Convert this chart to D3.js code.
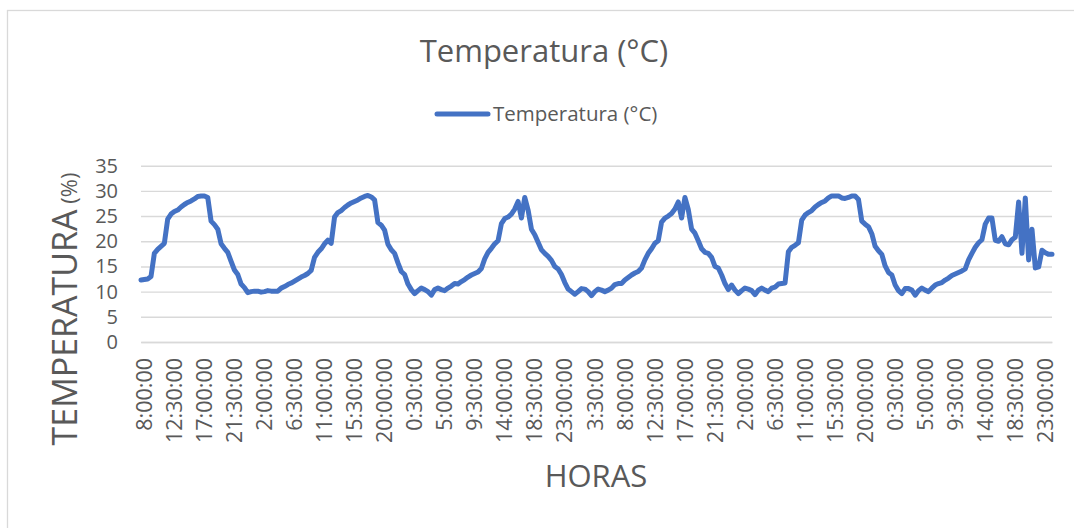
<!DOCTYPE html>
<html>
<head>
<meta charset="utf-8">
<script src="https://cdnjs.cloudflare.com/ajax/libs/d3/7.8.5/d3.min.js"></script>
<style>
  body { margin: 0; background: #fff; }
  svg { display: block; font-family: "Open Sans", sans-serif; }
</style>
</head>
<body>
<div id="chart"></div>
<script>
// readings every 30 minutes, starting at 8:00:00
var startHour = 8, stepMinutes = 30;

var temperatura = [
  12.3, 12.4, 12.5, 13.0, 17.6, 18.4, 19.0, 19.6, 24.4, 25.4,
  25.9, 26.2, 26.8, 27.3, 27.7, 28.0, 28.4, 28.9, 29.0, 29.0,
  28.7, 24.0, 23.3, 22.4, 19.5, 18.6, 17.8, 16.0, 14.3, 13.4,
  11.5, 10.8, 9.8, 10.0, 10.1, 10.1, 9.9, 10.0, 10.2, 10.1,
  10.1, 10.1, 10.7, 11.0, 11.4, 11.7, 12.1, 12.5, 12.9, 13.2,
  13.6, 14.2, 16.8, 17.8, 18.5, 19.5, 20.2, 19.6, 24.8, 25.7,
  26.1, 26.7, 27.2, 27.6, 27.9, 28.2, 28.6, 28.9, 29.1, 28.8,
  28.2, 23.7, 23.2, 22.2, 19.4, 18.3, 17.6, 15.7, 14.0, 13.4,
  11.5, 10.4, 9.6, 10.2, 10.7, 10.4, 10.0, 9.3, 10.4, 10.7,
  10.4, 10.2, 10.7, 11.1, 11.6, 11.5, 12.0, 12.4, 12.9, 13.3,
  13.6, 13.9, 14.6, 16.5, 17.8, 18.6, 19.5, 20.1, 23.5, 24.5,
  24.8, 25.4, 26.4, 27.9, 24.6, 28.7, 26.2, 22.4, 21.3, 19.8,
  18.3, 17.6, 17.0, 16.2, 15.0, 14.5, 13.4, 11.8, 10.5, 10.0,
  9.5, 10.0, 10.6, 10.5, 10.0, 9.2, 10.0, 10.5, 10.3, 10.0,
  10.3, 10.7, 11.4, 11.6, 11.6, 12.3, 12.8, 13.3, 13.7, 14.0,
  14.7, 16.3, 17.6, 18.5, 19.6, 20.1, 23.8, 24.6, 25.0, 25.5,
  26.4, 27.8, 24.6, 28.7, 26.3, 22.4, 21.6, 20.1, 18.5, 17.8,
  17.6, 16.8, 15.0, 14.7, 13.3, 11.6, 10.4, 11.3, 10.3, 9.6,
  10.2, 10.7, 10.5, 10.2, 9.4, 10.3, 10.7, 10.3, 10.0, 10.7,
  10.9, 11.5, 11.6, 11.7, 17.9, 18.8, 19.2, 19.7, 24.2, 25.2,
  25.7, 26.1, 26.8, 27.3, 27.7, 28.0, 28.6, 29.0, 29.0, 29.0,
  28.6, 28.5, 28.7, 29.0, 29.0, 28.3, 24.0, 23.4, 22.9, 21.5,
  19.0, 18.1, 17.4, 15.1, 13.8, 13.3, 11.3, 10.2, 9.6, 10.6,
  10.6, 10.3, 9.3, 10.2, 10.7, 10.3, 10.0, 10.7, 11.3, 11.6,
  11.8, 12.3, 12.7, 13.2, 13.5, 13.8, 14.1, 14.5, 16.3, 17.6,
  18.8, 19.7, 20.3, 23.4, 24.6, 24.6, 20.2, 20.0, 20.9, 19.5,
  19.3, 20.3, 20.8, 27.8, 17.6, 28.6, 16.3, 22.4, 14.7, 14.9,
  18.2, 17.7, 17.4, 17.4
];

// one label every 9 readings (4.5 h)
var tickEvery = 9;
var tickLabels = [
  "8:00:00", "12:30:00", "17:00:00", "21:30:00", "2:00:00", "6:30:00",
  "11:00:00", "15:30:00", "20:00:00", "0:30:00", "5:00:00", "9:30:00",
  "14:00:00", "18:30:00", "23:00:00", "3:30:00", "8:00:00", "12:30:00",
  "17:00:00", "21:30:00", "2:00:00", "6:30:00", "11:00:00", "15:30:00",
  "20:00:00", "0:30:00", "5:00:00", "9:30:00", "14:00:00", "18:30:00",
  "23:00:00"
];
var yTicks = [0, 5, 10, 15, 20, 25, 30, 35];

var titulo = "Temperatura (°C)";
var serieNombre = "Temperatura (°C)";

// hour label for each reading
var categorias = temperatura.map(function(d, i) {
  var m = startHour * 60 + i * stepMinutes;
  var h = Math.floor(m / 60) % 24, mm = m % 60;
  return h + ":" + (mm < 10 ? "0" : "") + mm + ":00";
});

var width = 1074, height = 528;
var plotLeft = 141, plotRight = 1052, plotTop = 165.7, plotBottom = 342;
var textColor = "#595959", lineColor = "#4472C4", gridColor = "#d9d9d9";

var svg = d3.select("#chart").append("svg")
  .attr("width", width)
  .attr("height", height);

// chart frame
svg.append("rect")
  .attr("x", 7.5).attr("y", 10.5)
  .attr("width", 1100).attr("height", 600)
  .attr("fill", "none")
  .attr("stroke", gridColor)
  .attr("stroke-width", 1.3);

var x = d3.scalePoint()
  .domain(d3.range(temperatura.length))
  .range([plotLeft, plotRight]);

var y = d3.scaleLinear()
  .domain([0, 35])
  .range([plotBottom, plotTop]);

// y axis with gridlines
var yAxis = svg.append("g")
  .attr("transform", "translate(" + plotLeft + ",0)")
  .call(d3.axisLeft(y).tickValues(yTicks).tickSize(-(plotRight - plotLeft)).tickPadding(23));
yAxis.select(".domain").remove();
yAxis.selectAll(".tick line")
  .attr("stroke", gridColor)
  .attr("stroke-width", 1.4);
yAxis.selectAll(".tick text")
  .attr("fill", textColor)
  .attr("font-size", "20px")
  .attr("font-family", "Open Sans");

// x axis labels
var xAxis = svg.append("g")
  .attr("transform", "translate(0," + plotBottom + ")")
  .call(d3.axisBottom(x)
    .tickValues(tickLabels.map(function(d, k) { return k * tickEvery; }))
    .tickSize(0)
    .tickFormat(function(i) { return categorias[i]; }));
xAxis.select(".domain")
  .attr("stroke", gridColor)
  .attr("stroke-width", 1.4);
xAxis.selectAll(".tick text")
  .attr("fill", textColor)
  .attr("font-size", "21.5px")
  .attr("font-family", "Open Sans")
  .attr("text-anchor", "end")
  .attr("transform", "translate(3,16) rotate(-90)")
  .attr("x", 0)
  .attr("y", 0)
  .attr("dy", "0.35em");

// series line
var line = d3.line()
  .x(function(d, i) { return x(i); })
  .y(function(d) { return y(d); });

svg.append("path")
  .datum(temperatura)
  .attr("d", line)
  .attr("fill", "none")
  .attr("stroke", lineColor)
  .attr("stroke-width", 5)
  .attr("stroke-linejoin", "round")
  .attr("stroke-linecap", "round");

// title
svg.append("text")
  .attr("x", 544).attr("y", 62)
  .attr("text-anchor", "middle")
  .attr("fill", textColor)
  .attr("font-size", "31px")
  .text(titulo);

// legend
svg.append("line")
  .attr("x1", 437).attr("x2", 488)
  .attr("y1", 114).attr("y2", 114)
  .attr("stroke", lineColor)
  .attr("stroke-width", 5)
  .attr("stroke-linecap", "round");
svg.append("text")
  .attr("x", 493).attr("y", 121)
  .attr("fill", textColor)
  .attr("font-size", "20.5px")
  .text(serieNombre);

// axis titles
var yTitle = svg.append("text")
  .attr("transform", "translate(77,309) rotate(-90)")
  .attr("text-anchor", "middle")
  .attr("fill", textColor);
yTitle.append("tspan").attr("font-size", "34px").text("TEMPERATURA");
yTitle.append("tspan").attr("font-size", "22px").text(" (%)");

svg.append("text")
  .attr("x", 596).attr("y", 487)
  .attr("text-anchor", "middle")
  .attr("fill", textColor)
  .attr("font-size", "31px")
  .text("HORAS");
</script>
</body>
</html>
